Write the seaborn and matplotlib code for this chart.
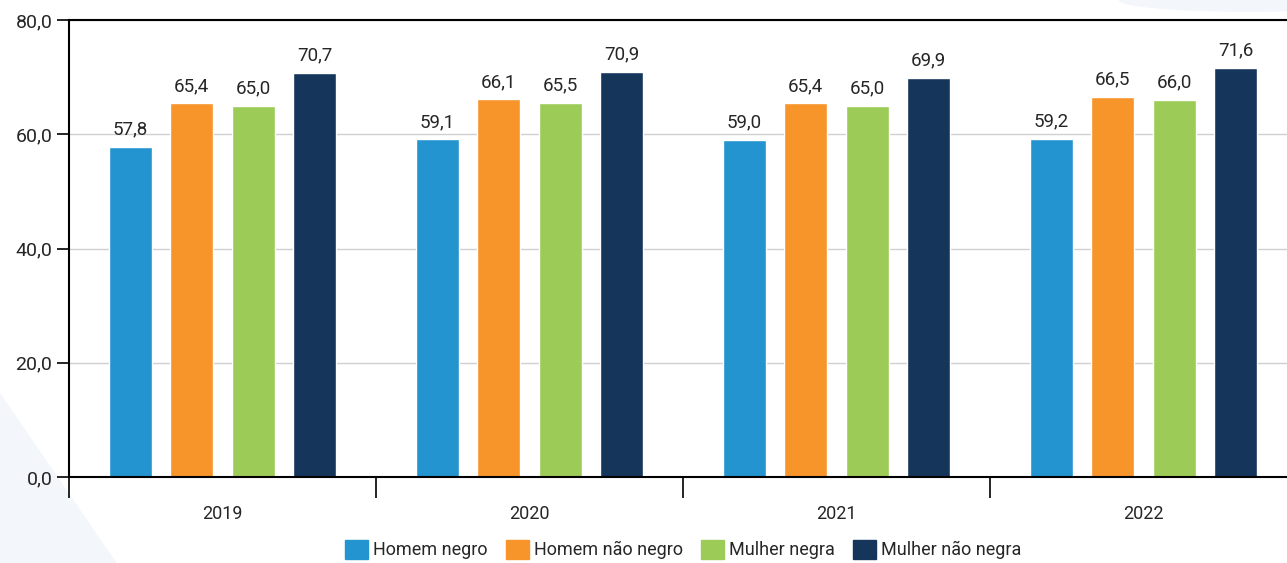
import pandas as pd
import matplotlib.pyplot as plt
import matplotlib.patches as mpatches
import seaborn as sns

# data
anos = ['2019', '2020', '2021', '2022']
grupos = ['Homem negro', 'Homem não negro', 'Mulher negra', 'Mulher não negra']
homem_negro = [57.8, 59.1, 59.0, 59.2]
homem_nao_negro = [65.4, 66.1, 65.4, 66.5]
mulher_negra = [65.0, 65.5, 65.0, 66.0]
mulher_nao_negra = [70.7, 70.9, 69.9, 71.6]
cores = ['#2394cf', '#f7942a', '#9ccb57', '#15355b']

df = pd.DataFrame({
    'Ano': anos * 4,
    'Grupo': [g for g in grupos for _ in anos],
    'Valor': homem_negro + homem_nao_negro + mulher_negra + mulher_nao_negra,
})

sns.set_style('white')
plt.rcParams['font.family'] = ['Roboto', 'DejaVu Sans']

fig = plt.figure(figsize=(12.87, 5.63), dpi=100)
# faint background shapes
fig.patches.append(mpatches.Polygon([[0, 0], [0, 0.3], [0.09, 0]], closed=True,
                                    transform=fig.transFigure, color='#f3f7fc', zorder=-1))
fig.patches.append(mpatches.Ellipse((0.97, 1.0), 0.2, 0.04, transform=fig.transFigure,
                                    color='#f3f7fc', zorder=-1))

ax = fig.add_axes([69 / 1287, 1 - 477 / 563, 1228 / 1287, 457 / 563])
ax.patch.set_alpha(0)
sns.barplot(data=df, x='Ano', y='Valor', hue='Grupo', palette=cores, ax=ax,
            width=0.8, gap=0.3, saturation=1, legend=False)

for cont in ax.containers:
    ax.bar_label(cont, labels=[f'{v:.1f}'.replace('.', ',') for v in cont.datavalues],
                 padding=6, fontsize=13.5)

ax.set_xlim(-0.5, 3.5)
ax.set_ylim(0, 80)
ax.set_yticks([0, 20, 40, 60, 80])
ax.set_yticklabels([f'{v:.1f}'.replace('.', ',') for v in [0, 20, 40, 60, 80]], fontsize=14)
ax.yaxis.grid(True, color='#d0d0d0', linewidth=1)
ax.set_axisbelow(True)
ax.tick_params(axis='y', left=True, length=9, width=1.2, color='black', pad=3)
ax.tick_params(axis='x', which='major', bottom=True, length=0, labelsize=13, pad=20)
ax.set_xticks([-0.5, 0.5, 1.5, 2.5], minor=True)
ax.tick_params(axis='x', which='minor', bottom=True, length=15, width=1.2, color='black')
ax.set_xlabel('')
ax.set_ylabel('')
for s in ['left', 'bottom', 'top']:
    ax.spines[s].set_color('black')
    ax.spines[s].set_linewidth(1.5)
ax.spines['right'].set_visible(False)

handles = [mpatches.Patch(color=c, label=g) for c, g in zip(cores, grupos)]
fig.legend(handles=handles, loc='lower center', bbox_to_anchor=(0.531, -0.022), ncol=4,
           frameon=False, fontsize=13, handlelength=1.25, handleheight=1.25,
           handletextpad=0.3, columnspacing=1.0)

fig.savefig('out.png', dpi=100)
